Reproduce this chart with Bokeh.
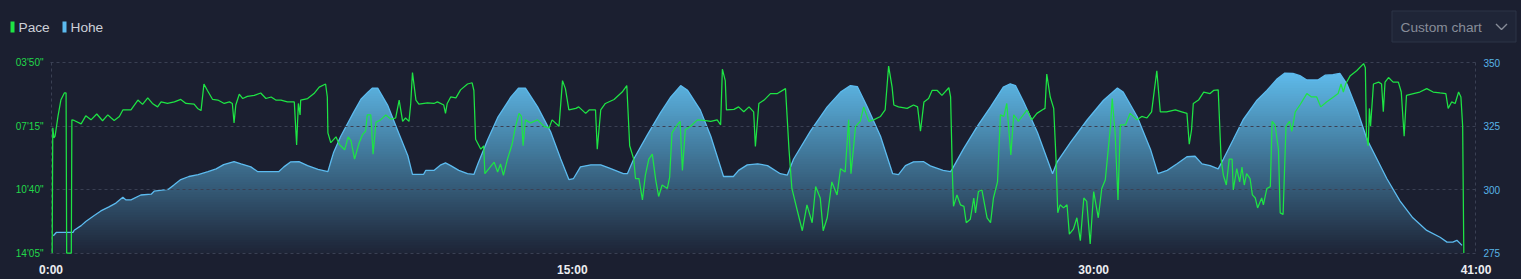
import numpy as np
from bokeh.plotting import figure
from bokeh.layouts import column
from bokeh.models import Range1d, LinearAxis, FixedTicker
from bokeh.core.properties import value
from bokeh.embed import file_html
from bokeh.resources import INLINE

# ---------------- data ----------------
# elevation profile: time (s) / elevation (m)
elev_t = [4, 9, 38, 40, 52, 60, 74, 86, 100, 112, 124, 129, 138, 155, 173, 178, 202, 212, 224, 238,
          254, 271, 285, 298, 316, 328, 345, 357, 393, 402, 414, 428, 443, 461, 478, 483, 488, 500, 523, 535,
          547, 555, 564, 581, 599, 616, 624, 643, 647, 661, 673, 681, 690, 704, 719, 730, 737, 754, 771, 794,
          807, 819, 840, 863, 880, 894, 902, 914, 932, 949, 963, 988, 995, 1006, 1030, 1052, 1070, 1087, 1099, 1121,
          1139, 1161, 1178, 1187, 1202, 1220, 1237, 1259, 1271, 1282, 1311, 1340, 1363, 1380, 1392, 1409, 1432, 1453, 1463, 1475,
          1489, 1506, 1518, 1540, 1553, 1556, 1575, 1599, 1622, 1644, 1656, 1665, 1679, 1703, 1729, 1737, 1760, 1789, 1817, 1841,
          1851, 1875, 1898, 1911, 1927, 1944, 1961, 1975, 1987, 2001, 2015, 2024, 2041, 2058, 2082, 2099, 2117, 2130, 2144, 2156,
          2168, 2187, 2200, 2213, 2225, 2237, 2255, 2272, 2289, 2306, 2329, 2351, 2375, 2398, 2410, 2420, 2427, 2436]
elev_m = [281.8, 283.1, 283.1, 284.0, 285.8, 287.4, 289.7, 291.6, 293.2, 294.7, 297.0, 296.0, 296.0, 297.9, 298.2, 299.4, 300.1, 301.8, 304.0, 305.2,
          305.9, 307.1, 308.2, 309.9, 311.1, 310.2, 309.0, 307.1, 307.1, 309.0, 311.0, 311.1, 309.5, 308.0, 307.1, 311.0, 314.8, 321.0, 330.8, 335.7,
          338.5, 340.1, 340.1, 333.4, 323.1, 313.4, 306.0, 306.0, 307.6, 307.6, 309.8, 310.6, 309.5, 307.6, 306.3, 306.0, 310.2, 319.8, 328.4, 336.6,
          340.1, 340.1, 332.7, 322.6, 312.1, 304.0, 304.4, 309.0, 309.8, 309.8, 308.6, 306.3, 306.3, 312.1, 321.8, 330.3, 336.6, 341.1, 339.2, 331.4,
          321.1, 305.2, 305.2, 307.6, 309.8, 310.2, 309.5, 306.3, 305.7, 312.1, 323.1, 332.7, 338.5, 341.1, 340.7, 332.7, 321.1, 306.3, 305.9, 309.5,
          311.0, 311.1, 309.4, 307.6, 307.1, 308.2, 316.0, 325.0, 332.7, 340.5, 341.8, 341.1, 334.7, 322.6, 306.3, 311.0, 318.7, 327.6, 335.3, 340.1,
          338.5, 328.9, 316.0, 306.3, 307.6, 310.2, 313.0, 313.2, 310.2, 309.5, 308.2, 312.1, 319.8, 327.6, 335.3, 339.2, 343.8, 346.0, 345.9, 345.0,
          343.3, 343.3, 345.2, 345.4, 345.9, 341.8, 331.4, 319.8, 312.1, 304.4, 295.5, 288.9, 283.9, 281.2, 279.3, 279.3, 280.0, 278.0]

# pace: time (s) / pace (s per km)
pace_t = [2, 3, 5, 7, 12, 17, 23, 26, 27, 35, 36, 40, 52, 60, 69, 79, 89, 98, 104, 109,
          118, 124, 138, 150, 158, 167, 175, 184, 190, 201, 213, 224, 233, 247, 253, 259, 264, 270, 279, 288,
          299, 308, 313, 316, 319, 325, 331, 339, 351, 362, 371, 380, 388, 397, 408, 420, 424, 427, 430, 431,
          443, 454, 463, 474, 477, 478, 483, 492, 497, 500, 507, 513, 518, 524, 532, 538, 543, 546, 552, 556,
          561, 569, 578, 587, 595, 601, 607, 612, 618, 621, 624, 630, 635, 650, 661, 667, 678, 681, 684, 690,
          699, 707, 719, 727, 730, 733, 742, 747, 749, 756, 765, 771, 776, 781, 788, 796, 802, 808, 812, 815,
          819, 828, 840, 851, 860, 865, 877, 883, 888, 894, 906, 911, 923, 929, 940, 943, 949, 957, 972, 986,
          994, 999, 1006, 1009, 1015, 1021, 1026, 1032, 1038, 1044, 1049, 1055, 1064, 1068, 1072, 1081, 1086, 1090, 1095, 1104,
          1116, 1127, 1139, 1150, 1156, 1159, 1164, 1166, 1179, 1187, 1196, 1205, 1213, 1216, 1222, 1231, 1242, 1254, 1268, 1274,
          1279, 1288, 1297, 1305, 1314, 1320, 1328, 1333, 1340, 1348, 1357, 1363, 1371, 1377, 1381, 1389, 1397, 1403, 1412, 1420,
          1432, 1440, 1446, 1452, 1455, 1463, 1478, 1489, 1496, 1501, 1507, 1515, 1521, 1530, 1538, 1550, 1553, 1556, 1558, 1564,
          1570, 1576, 1580, 1587, 1593, 1596, 1601, 1607, 1616, 1622, 1627, 1634, 1639, 1645, 1650, 1657, 1662, 1670, 1685, 1693,
          1702, 1711, 1716, 1719, 1725, 1731, 1735, 1738, 1742, 1748, 1754, 1758, 1765, 1771, 1777, 1783, 1788, 1794, 1800, 1808,
          1814, 1820, 1829, 1832, 1837, 1842, 1846, 1855, 1863, 1875, 1883, 1892, 1900, 1909, 1915, 1926, 1941, 1952, 1961, 1965,
          1969, 1972, 1981, 1990, 2001, 2007, 2015, 2020, 2024, 2029, 2034, 2039, 2041, 2047, 2052, 2056, 2060, 2064, 2070, 2074,
          2079, 2083, 2090, 2093, 2099, 2105, 2108, 2113, 2119, 2122, 2127, 2132, 2138, 2142, 2148, 2156, 2168, 2176, 2185, 2192,
          2202, 2214, 2222, 2227, 2231, 2235, 2243, 2254, 2266, 2269, 2271, 2274, 2276, 2278, 2283, 2292, 2297, 2300, 2303, 2309,
          2317, 2326, 2331, 2336, 2340, 2352, 2363, 2375, 2386, 2398, 2408, 2412, 2418, 2424, 2430, 2434, 2437, 2439]
pace_s = [845, 440, 472, 467, 403, 350, 327, 327, 845, 845, 414, 416, 427, 401, 414, 395, 417, 398, 408, 416,
          403, 382, 382, 350, 364, 343, 361, 372, 356, 361, 356, 348, 361, 363, 377, 384, 298, 319, 348, 350,
          361, 356, 361, 424, 366, 331, 345, 338, 335, 327, 345, 340, 350, 350, 356, 356, 495, 361, 398, 350,
          345, 329, 308, 298, 340, 456, 488, 469, 491, 498, 511, 469, 483, 541, 488, 461, 451, 398, 398, 525,
          422, 414, 398, 412, 408, 350, 419, 408, 419, 361, 261, 350, 363, 359, 361, 356, 366, 393, 361, 340,
          343, 317, 298, 294, 319, 477, 509, 498, 588, 572, 551, 583, 557, 594, 541, 493, 435, 393, 403, 498,
          414, 424, 414, 435, 440, 414, 435, 287, 313, 382, 377, 372, 393, 382, 382, 509, 382, 361, 348, 324,
          303, 498, 541, 604, 604, 673, 594, 541, 525, 609, 662, 625, 636, 599, 456, 430, 419, 578, 446, 435,
          414, 416, 419, 414, 430, 250, 287, 382, 380, 372, 388, 372, 388, 500, 361, 350, 329, 329, 313, 509,
          636, 705, 773, 689, 747, 630, 667, 773, 731, 615, 657, 572, 583, 414, 588, 435, 419, 372, 419, 414,
          403, 382, 240, 308, 366, 372, 377, 366, 372, 451, 356, 345, 319, 319, 335, 310, 340, 583, 694, 657,
          689, 694, 747, 736, 667, 715, 646, 641, 731, 747, 667, 615, 398, 403, 361, 528, 398, 419, 382, 414,
          393, 382, 377, 266, 340, 377, 541, 715, 689, 699, 689, 784, 768, 731, 805, 667, 678, 816, 646, 731,
          636, 609, 435, 345, 456, 673, 430, 430, 393, 414, 403, 408, 388, 255, 388, 388, 382, 388, 393, 493,
          446, 361, 350, 324, 329, 319, 317, 541, 594, 625, 541, 541, 641, 572, 615, 567, 625, 588, 604, 657,
          667, 699, 667, 689, 636, 630, 419, 430, 509, 715, 720, 435, 419, 451, 388, 366, 329, 340, 340, 372,
          356, 340, 329, 298, 324, 298, 271, 255, 232, 245, 467, 498, 377, 435, 298, 292, 298, 388, 292, 277,
          292, 292, 324, 467, 335, 329, 324, 313, 324, 327, 329, 377, 356, 361, 324, 340, 435, 845]

pace_ticks = [230, 435, 640, 845]
pace_tick_labels = ['03\'50"', '07\'15"', '10\'40"', '14\'05"']
elev_ticks = [275, 300, 325, 350]
time_ticks = [0, 900, 1800, 2460]
time_tick_labels = ["0:00", "15:00", "30:00", "41:00"]
series_names = ["Pace", "Hohe"]
dropdown_text = "Custom chart"

# ---------------- style ----------------
BG = "#1b1f30"
GREEN = "#1ee444"
BLUE = "#5cbbef"
GRID = "#3a4053"
FONT = "Liberation Sans"
W = 1521
HEAD_H = 52
CSS_BG = {"background-color": BG}

# ---------------- header (legend + dropdown), pixel-space frame ----------------
head = figure(width=W, height=HEAD_H, output_backend="svg", toolbar_location=None,
              x_range=Range1d(0, W), y_range=Range1d(HEAD_H, 0),
              x_axis_type=None, y_axis_type=None, min_border=0,
              background_fill_color=None, border_fill_color=None, outline_line_color=None,
              styles=CSS_BG)
head.frame_align = False
head.grid.visible = False
head.quad(left=[10, 62], right=[14, 66], top=21, bottom=32,
          fill_color=[GREEN, BLUE], line_color=None)
head.text(x=[18, 70], y=[26.5, 26.5], text=series_names, text_font=value(FONT),
          text_font_size="13.7px", text_color="#cdd0d8", text_baseline="middle", text_align="left")
head.quad(left=1391.5, right=1515.5, top=10.5, bottom=41.5,
          fill_color="#1f2537", line_color="#2d3446", line_width=1)
head.text(x=[1400], y=[26.5], text=[dropdown_text], text_font=value(FONT),
          text_font_size="13.7px", text_color="#888d99", text_baseline="middle", text_align="left")
head.line(x=[1495.5, 1501, 1506.5], y=[23.5, 29, 23.5], line_color="#888d99", line_width=1.4)

# ---------------- main chart ----------------
# ranges padded by ~half a pixel so the edge grid lines are not clipped by the frame
p = figure(width=W, height=279 - HEAD_H, output_backend="svg", toolbar_location=None,
           x_range=Range1d(-0.9, 2460.9), y_range=Range1d(846.6, 228.4),
           min_border_left=50, min_border_right=45, min_border_top=10, min_border_bottom=23,
           background_fill_color=None, border_fill_color=None, outline_line_color=None,
           styles=CSS_BG)
p.frame_align = False
p.extra_y_ranges = {"elev": Range1d(274.8, 350.2)}

# gradient fill under the elevation curve (strips kept inside the frame, masked above the curve)
lo, hi = 275.0, 350.0
g_top = max(elev_m) + 1.0
n = 72
edges = np.linspace(lo, g_top, n + 1)
bg_rgb = np.array([0x1b, 0x1f, 0x30], dtype=float)
top_rgb = np.array([0x62, 0xc3, 0xf4], dtype=float)
cols = []
for i in range(n):
    f = (edges[i] + edges[i + 1]) / 2
    a = 0.03 + 0.97 * (f - lo) / (hi - lo)
    c = bg_rgb * (1 - a) + top_rgb * a
    cols.append("#%02x%02x%02x" % tuple(int(round(v)) for v in c))
tops = np.minimum(edges[1:] + 0.6, g_top)
p.quad(left=elev_t[0] - 2, right=elev_t[-1] + 6, bottom=edges[:-1], top=tops, fill_color=cols,
       line_color=None, y_range_name="elev")
mask_x = [-20, elev_t[0]] + list(elev_t) + [elev_t[-1], 2480]
mask_y = [270, 270] + list(elev_m) + [270, 270]
p.varea(x=mask_x, y1=mask_y, y2=355, fill_color=BG, y_range_name="elev")
p.line(elev_t, elev_m, line_color=BLUE, line_width=1.3, y_range_name="elev")

pace_r = p.line(pace_t, pace_s, line_color=GREEN, line_width=1.25)
pace_r.level = "annotation"

# axes
ly = p.yaxis[0]
ly.ticker = FixedTicker(ticks=pace_ticks)
ly.major_label_overrides = {v: l for v, l in zip(pace_ticks, pace_tick_labels)}
ly.major_label_text_color = "#22d84a"

ry = LinearAxis(y_range_name="elev", ticker=FixedTicker(ticks=elev_ticks))
ry.major_label_text_color = "#58b4e6"
p.add_layout(ry, "right")

bx = p.xaxis[0]
bx.ticker = FixedTicker(ticks=time_ticks)
bx.major_label_overrides = {v: l for v, l in zip(time_ticks, time_tick_labels)}
bx.major_label_text_color = "#ecedf1"

for ax in (ly, ry, bx):
    ax.axis_line_color = None
    ax.major_tick_line_color = None
    ax.minor_tick_line_color = None
    ax.major_label_text_font = FONT
    ax.major_label_text_font_size = "10px"
    ax.major_label_standoff = 1
bx.major_label_text_font_size = "12px"
bx.major_label_text_font_style = "bold"
bx.major_label_standoff = 3

p.ygrid.ticker = FixedTicker(ticks=pace_ticks)
p.xgrid.ticker = FixedTicker(ticks=[0, 2460])
for g in (p.xgrid[0], p.ygrid[0]):
    g.grid_line_color = GRID
    g.grid_line_dash = "3 3"
    g.grid_line_width = 1
    g.level = "guide"

layout = column(head, p, spacing=0, styles=CSS_BG)
open("out.html", "w").write(file_html(layout, INLINE))
